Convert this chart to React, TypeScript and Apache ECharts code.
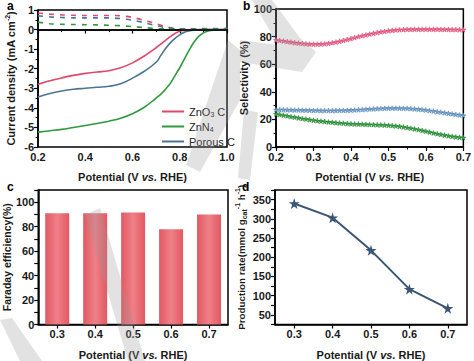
import React, { useEffect, useRef } from "react";
import * as echarts from "echarts";

// Panel a: LSV
const potA = [0.2, 0.25, 0.3, 0.35, 0.4, 0.45, 0.5, 0.55, 0.6, 0.65, 0.7, 0.72, 0.74, 0.76, 0.78, 0.8, 0.82, 0.84, 0.86, 0.88, 0.9, 0.92, 0.95, 1.0];
const znoSolid = [-2.8, -2.62, -2.47, -2.34, -2.24, -2.17, -2.1, -1.95, -1.7, -1.35, -0.93, -0.74, -0.55, -0.36, -0.2, -0.09, -0.04, -0.01, 0, 0, 0, 0, 0, 0];
const znnSolid = [-5.24, -5.17, -5.1, -5.0, -4.9, -4.8, -4.68, -4.53, -4.3, -3.97, -3.5, -3.3, -3.05, -2.75, -2.35, -1.95, -1.5, -1.05, -0.65, -0.35, -0.17, -0.07, -0.02, 0];
const porSolid = [-3.45, -3.27, -3.14, -3.05, -3.0, -2.95, -2.9, -2.77, -2.48, -2.13, -1.67, -1.32, -0.97, -0.68, -0.45, -0.27, -0.14, -0.07, -0.03, -0.01, 0, 0, 0, 0];
const potD = [0.2, 0.25, 0.3, 0.35, 0.4, 0.45, 0.5, 0.55, 0.6, 0.65, 0.7, 0.75, 0.8, 0.85, 0.9, 0.95, 1.0];
const znoDash = [0.85, 0.79, 0.75, 0.73, 0.72, 0.72, 0.72, 0.7, 0.62, 0.47, 0.3, 0.12, 0.03, 0.02, 0.02, 0.02, 0.03];
const porDash = [0.7, 0.65, 0.62, 0.6, 0.6, 0.6, 0.6, 0.56, 0.48, 0.35, 0.2, 0.08, 0.04, 0.04, 0.05, 0.05, 0.06];
const znnDash = [0.38, 0.3, 0.27, 0.26, 0.25, 0.24, 0.22, 0.2, 0.15, 0.1, 0.05, 0.03, 0.02, 0.02, 0.02, 0.02, 0.02];

// Panel b: selectivity, 0.20 .. 0.70 step 0.01
const potB = [0.2, 0.21, 0.22, 0.23, 0.24, 0.25, 0.26, 0.27, 0.28, 0.29, 0.3, 0.31, 0.32, 0.33, 0.34, 0.35, 0.36, 0.37, 0.38, 0.39, 0.4, 0.41, 0.42, 0.43, 0.44, 0.45, 0.46, 0.47, 0.48, 0.49, 0.5, 0.51, 0.52, 0.53, 0.54, 0.55, 0.56, 0.57, 0.58, 0.59, 0.6, 0.61, 0.62, 0.63, 0.64, 0.65, 0.66, 0.67, 0.68, 0.69, 0.7];
const selRed = [77.5, 77.2, 76.8, 76.4, 76.0, 75.6, 75.3, 75.0, 74.8, 74.6, 74.5, 74.5, 74.6, 74.8, 75.1, 75.5, 76.0, 76.6, 77.2, 77.9, 78.6, 79.3, 80.0, 80.6, 81.2, 81.8, 82.4, 82.9, 83.4, 83.8, 84.2, 84.5, 84.8, 85.0, 85.1, 85.2, 85.2, 85.3, 85.3, 85.3, 85.3, 85.3, 85.3, 85.3, 85.2, 85.2, 85.2, 85.1, 85.1, 85.0, 85.0];
const selBlue = [27.0, 27.0, 27.0, 26.9, 26.9, 26.8, 26.8, 26.7, 26.6, 26.6, 26.5, 26.5, 26.4, 26.4, 26.4, 26.4, 26.4, 26.5, 26.5, 26.6, 26.7, 26.8, 27.0, 27.1, 27.3, 27.5, 27.6, 27.8, 27.9, 28.0, 28.1, 28.1, 28.1, 28.1, 28.0, 28.0, 27.8, 27.6, 27.4, 27.1, 26.8, 26.4, 26.0, 25.6, 25.2, 24.8, 24.4, 24.0, 23.6, 23.2, 22.8];
const selGreen = [24.0, 23.5, 23.0, 22.5, 22.0, 21.6, 21.1, 20.6, 20.2, 19.8, 19.4, 19.0, 18.7, 18.4, 18.1, 17.9, 17.6, 17.4, 17.2, 17.0, 16.8, 16.7, 16.6, 16.5, 16.4, 16.3, 16.2, 16.1, 16.0, 15.9, 15.7, 15.5, 15.2, 14.9, 14.5, 14.1, 13.6, 13.1, 12.6, 12.0, 11.4, 10.8, 10.2, 9.6, 9.1, 8.6, 8.1, 7.7, 7.3, 7.0, 6.7];

// Panel c & d
const potCats = ["0.3", "0.4", "0.5", "0.6", "0.7"];
const faraday = [91, 91, 91.5, 78, 90];
const production = [340, 303, 218, 117, 67];

const RED = "#e0496b";
const GREEN = "#2e9a3c";
const BLUE = "#4d7493";
const FONT = "Liberation Sans, Arial, sans-serif";

const pairs = (xs: number[], ys: number[]) => xs.map((x, i) => [x, ys[i]]);

const STAR = "path://M50,0 L61,35 L98,35 L68,57 L79,91 L50,70 L21,91 L32,57 L2,35 L39,35 Z";

const labelStyle = { color: "#1a1a1a", fontSize: 11, fontWeight: "bold" as const, fontFamily: FONT, margin: 4 };
const mkName = (fs: number) => ({
  color: "#1a1a1a",
  fontSize: fs,
  fontWeight: "bold" as const,
  fontFamily: FONT,
  rich: {
    n: { fontSize: fs, fontWeight: "bold", fontFamily: FONT, color: "#1a1a1a", lineHeight: 14 },
    i: { fontSize: fs, fontWeight: "bold", fontStyle: "italic", fontFamily: FONT, color: "#1a1a1a", lineHeight: 14 },
    sup: { fontSize: 7, fontWeight: "bold", fontFamily: FONT, color: "#1a1a1a", verticalAlign: "top", lineHeight: 14 },
    sub: { fontSize: 7, fontWeight: "bold", fontFamily: FONT, color: "#1a1a1a", verticalAlign: "bottom", lineHeight: 14 },
  },
});
const nameStyle = mkName(11);
const axisLine = { show: true, lineStyle: { color: "#000", width: 1.5 } };
const axisTick = { show: true, length: 4, lineStyle: { color: "#000", width: 1.2 } };
const minorTick = { show: true, splitNumber: 2, length: 2.5, lineStyle: { color: "#000", width: 1 } };
const potName = "{n|Potential (V }{i|vs.}{n| RHE)}";
const WM = "rgba(150,150,150,0.28)";

export default function App() {
  const ref = useRef<HTMLDivElement>(null);
  useEffect(() => {
    if (!ref.current) return;
    const chart = echarts.init(ref.current, undefined, { renderer: "svg" });
    const grid = (left: number, top: number, width: number, height: number) => ({
      left, top, width, height, show: true, borderColor: "#000", borderWidth: 1.5, backgroundColor: "transparent",
    });
    const option: any = {
      animation: false,
      backgroundColor: "#fff",
      grid: [grid(38, 10, 189, 137), grid(276, 9, 192, 138), grid(36, 190, 192, 136), grid(275, 190, 192, 136)],
      legend: {
        data: ["ZnO3C", "ZnN4", "Porous C"],
        orient: "vertical",
        left: 157,
        top: 101,
        itemWidth: 22,
        itemHeight: 2,
        itemGap: 3,
        icon: "rect",
        textStyle: {
          fontSize: 11,
          fontFamily: FONT,
          color: "#222",
          rich: {
            n: { fontSize: 11, fontFamily: FONT, color: "#222", lineHeight: 13 },
            s: { fontSize: 7, fontFamily: FONT, color: "#222", verticalAlign: "bottom", lineHeight: 13 },
          },
        },
        formatter: (name: string) =>
          name === "ZnO3C" ? "{n|ZnO}{s|3}{n| C}" : name === "ZnN4" ? "{n|ZnN}{s|4}" : "{n|Porous C}",
      },
      xAxis: [
        {
          gridIndex: 0, type: "value", min: 0.2, max: 1.0, interval: 0.2,
          axisLine, axisTick, minorTick, splitLine: { show: false },
          axisLabel: { ...labelStyle, formatter: (v: number) => v.toFixed(1) },
          name: potName, nameLocation: "middle", nameGap: 23, nameTextStyle: nameStyle,
        },
        {
          gridIndex: 1, type: "value", min: 0.2, max: 0.7, interval: 0.1,
          axisLine, axisTick, minorTick, splitLine: { show: false },
          axisLabel: { ...labelStyle, formatter: (v: number) => v.toFixed(1) },
          name: potName, nameLocation: "middle", nameGap: 23, nameTextStyle: nameStyle,
        },
        {
          gridIndex: 2, type: "category", data: potCats, boundaryGap: true,
          axisLine, axisTick: { ...axisTick, alignWithLabel: true }, splitLine: { show: false },
          axisLabel: labelStyle,
          name: potName, nameLocation: "middle", nameGap: 23, nameTextStyle: nameStyle,
        },
        {
          gridIndex: 3, type: "category", data: potCats, boundaryGap: true,
          axisLine, axisTick: { ...axisTick, alignWithLabel: true }, splitLine: { show: false },
          axisLabel: labelStyle,
          name: potName, nameLocation: "middle", nameGap: 23, nameTextStyle: nameStyle,
        },
      ],
      yAxis: [
        {
          gridIndex: 0, type: "value", min: -6, max: 1, interval: 1,
          axisLine, axisTick, minorTick, splitLine: { show: false },
          axisLabel: labelStyle,
          name: "{n|Current density (mA cm}{sup|-2}{n|)}", nameLocation: "middle", nameGap: 20, nameTextStyle: nameStyle,
        },
        {
          gridIndex: 1, type: "value", min: 0, max: 100, interval: 20,
          axisLine, axisTick, minorTick, splitLine: { show: false },
          axisLabel: labelStyle,
          name: "{n|Selectivity (%)}", nameLocation: "middle", nameGap: 24, nameTextStyle: nameStyle,
        },
        {
          gridIndex: 2, type: "value", min: 0, max: 110, interval: 10,
          axisLine, axisTick, splitLine: { show: false },
          axisLabel: { ...labelStyle, formatter: (v: number) => (v % 20 === 0 && v <= 100 ? String(v) : "") },
          name: "{n|Faraday efficiency(%)}", nameLocation: "middle", nameGap: 22, nameTextStyle: mkName(10.5),
        },
        {
          gridIndex: 3, type: "value", min: 25, max: 375, interval: 25,
          axisLine, axisTick, splitLine: { show: false },
          axisLabel: { ...labelStyle, formatter: (v: number) => (v % 50 === 0 && v <= 350 ? String(v) : "") },
          name: "{n|Production rate(mmol g}{sub|cat}{sup|-1}{n| h}{sup|-1}{n|)}", nameLocation: "middle", nameGap: 27, nameTextStyle: mkName(9.8),
        },
      ],
      series: [
        {
          name: "ZnO3C", type: "line", xAxisIndex: 0, yAxisIndex: 0, data: pairs(potA, znoSolid), smooth: 0.4,
          showSymbol: false, lineStyle: { color: RED, width: 1.6 }, itemStyle: { color: RED },
          markLine: {
            silent: true, symbol: "none", label: { show: false },
            lineStyle: { color: "#000", width: 1.5, type: "solid" }, data: [{ yAxis: 0 }],
          },
        },
        {
          name: "ZnN4", type: "line", xAxisIndex: 0, yAxisIndex: 0, data: pairs(potA, znnSolid), smooth: 0.4,
          showSymbol: false, lineStyle: { color: GREEN, width: 1.6 }, itemStyle: { color: GREEN },
        },
        {
          name: "Porous C", type: "line", xAxisIndex: 0, yAxisIndex: 0, data: pairs(potA, porSolid), smooth: 0.4,
          showSymbol: false, lineStyle: { color: BLUE, width: 1.6 }, itemStyle: { color: BLUE },
        },
        {
          name: "ZnO3C-ring", type: "line", xAxisIndex: 0, yAxisIndex: 0, data: pairs(potD, znoDash), smooth: 0.3,
          showSymbol: false, lineStyle: { color: RED, width: 1.6, type: [5, 6] },
        },
        {
          name: "Porous C-ring", type: "line", xAxisIndex: 0, yAxisIndex: 0, data: pairs(potD, porDash), smooth: 0.3,
          showSymbol: false, lineStyle: { color: BLUE, width: 1.6, type: [5, 6] },
        },
        {
          name: "ZnN4-ring", type: "line", xAxisIndex: 0, yAxisIndex: 0, data: pairs(potD, znnDash), smooth: 0.3,
          showSymbol: false, lineStyle: { color: GREEN, width: 1.6, type: [5, 6] },
        },
        {
          name: "sel-red", type: "line", xAxisIndex: 1, yAxisIndex: 1, data: pairs(potB, selRed), smooth: true,
          symbol: STAR, symbolSize: 5, lineStyle: { color: "#e8507c", width: 1 }, itemStyle: { color: "#ee6f95", borderColor: "#d93a68", borderWidth: 0.5 },
        },
        {
          name: "sel-blue", type: "line", xAxisIndex: 1, yAxisIndex: 1, data: pairs(potB, selBlue), smooth: true,
          symbol: STAR, symbolSize: 5, lineStyle: { color: "#5b8dbb", width: 1 }, itemStyle: { color: "#7aa6cf", borderColor: "#4c7fae", borderWidth: 0.5 },
        },
        {
          name: "sel-green", type: "line", xAxisIndex: 1, yAxisIndex: 1, data: pairs(potB, selGreen), smooth: true,
          symbol: STAR, symbolSize: 5, lineStyle: { color: "#2a8f38", width: 1 }, itemStyle: { color: "#3aa648", borderColor: "#1f7a2c", borderWidth: 0.5 },
        },
        {
          name: "Faraday efficiency", type: "bar", xAxisIndex: 2, yAxisIndex: 2, data: faraday, barWidth: 24,
          itemStyle: {
            color: new echarts.graphic.LinearGradient(0, 0, 1, 0, [
              { offset: 0, color: "#e25962" },
              { offset: 0.5, color: "#ef8088" },
              { offset: 1, color: "#e25962" },
            ]),
          },
        },
        {
          name: "Production rate", type: "line", xAxisIndex: 3, yAxisIndex: 3, data: production,
          symbol: STAR, symbolSize: 11, lineStyle: { color: "#3b5575", width: 2 }, itemStyle: { color: "#3b5575" },
        },
      ],
      graphic: [
        { type: "text", left: 7, top: 0, style: { text: "a", font: `bold 12px ${FONT}`, fill: "#000" } },
        { type: "text", left: 243, top: 0, style: { text: "b", font: `bold 12px ${FONT}`, fill: "#000" } },
        { type: "text", left: 7, top: 181, style: { text: "c", font: `bold 12px ${FONT}`, fill: "#000" } },
        { type: "text", left: 242, top: 181, style: { text: "d", font: `bold 12px ${FONT}`, fill: "#000" } },
        // faint watermark strokes
        { type: "polygon", silent: true, z: 100, shape: { points: [[228, 40], [240, 50], [240, 100], [200, 172], [186, 165]] }, style: { fill: WM } },
        { type: "polygon", silent: true, z: 100, shape: { points: [[252, 0], [272, 0], [300, 38], [316, 52], [302, 72], [240, 62], [240, 40], [278, 45]] }, style: { fill: WM } },
        { type: "polygon", silent: true, z: 100, shape: { points: [[244, 110], [258, 112], [250, 180], [238, 178]] }, style: { fill: WM } },
        { type: "polygon", silent: true, z: 100, shape: { points: [[85, 215], [100, 208], [145, 361], [128, 361]] }, style: { fill: WM } },
        { type: "polygon", silent: true, z: 100, shape: { points: [[0, 320], [12, 318], [42, 361], [20, 361]] }, style: { fill: WM } },
      ],
    };
    chart.setOption(option);
    return () => chart.dispose();
  }, []);
  return <div ref={ref} style={{ position: "fixed", left: 0, top: 0, width: 474, height: 361, background: "#fff" }} />;
}
